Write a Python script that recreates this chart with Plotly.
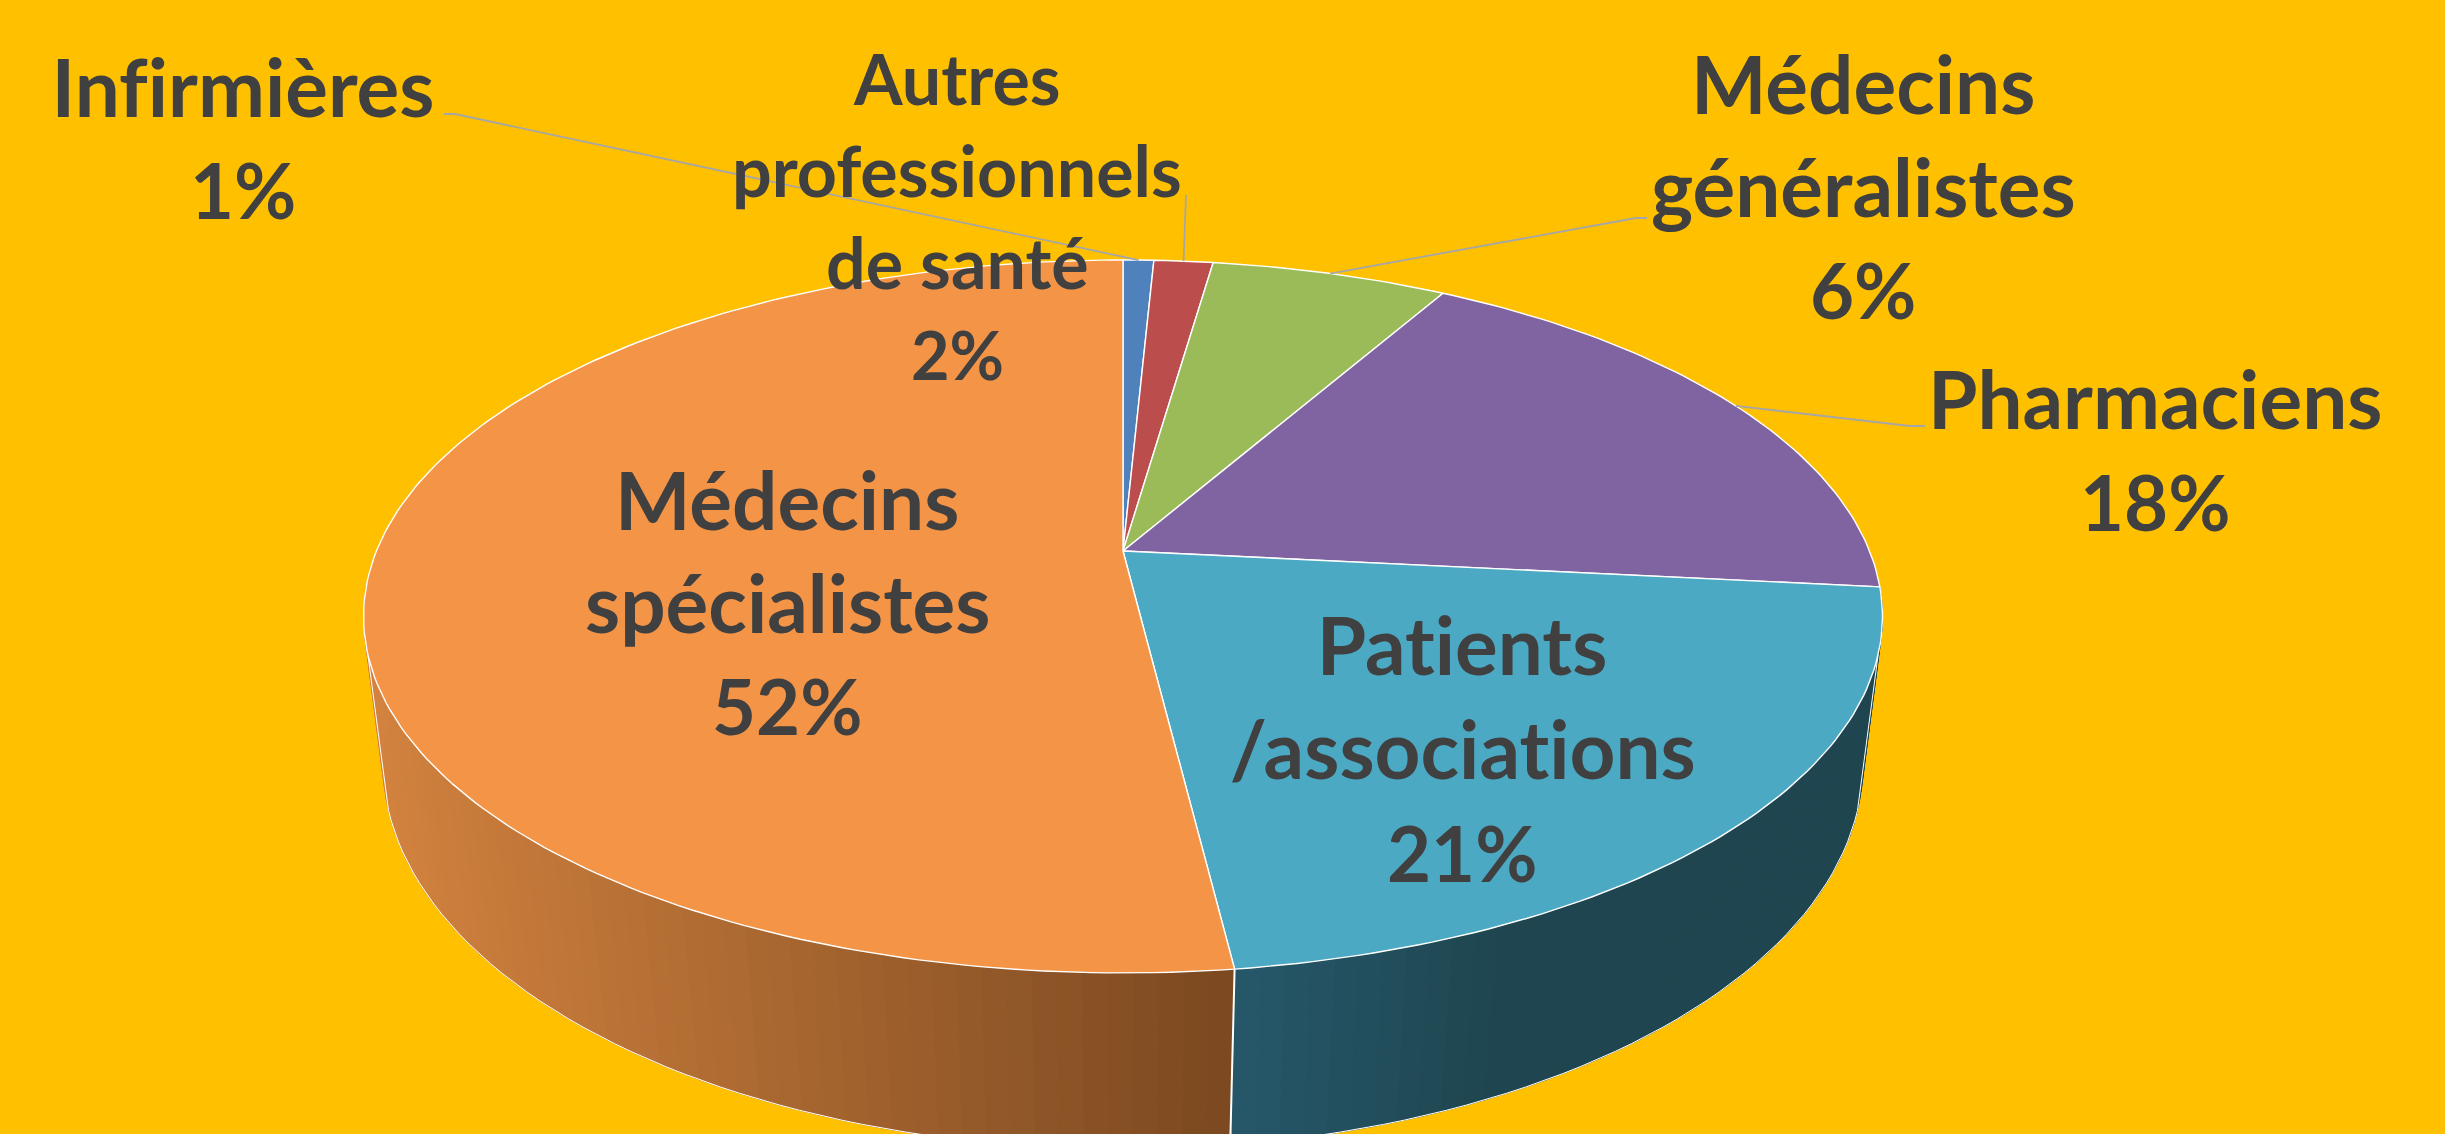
import math
import plotly.graph_objects as go

# --- data -----------------------------------------------------------------
categories = ["Infirmières", "Autres professionnels de santé", "Médecins généralistes",
              "Pharmaciens", "Patients /associations", "Médecins spécialistes"]
values = [0.78, 1.5, 6.0, 18.35, 21.42, 51.95]
label_lines = [["Infirmières"], ["Autres", "professionnels", "de santé"],
               ["Médecins", "généralistes"], ["Pharmaciens"],
               ["Patients", "/associations"], ["Médecins", "spécialistes"]]
colors = ["#4F81BD", "#BC4D4D", "#9BBB59", "#8064A2", "#4BA9C4", "#F49446"]

# --- layout of labels (centre x, y of first line, line pitch, font size) ---
label_pos = [(243, 86, 103, 80), (957, 78, 92, 70), (1863, 83, 103, 80),
             (2155, 398, 103, 80), (1462, 644, 104, 80), (787, 499, 103, 80)]
PERCENT_SCALE = 0.95
# leader elbow / label end: None for labels sitting on the pie
leaders = [[(444, 114), (455, 114)], [(1186, 195)], [(1647, 218), (1636, 218)],
           [(1925, 426), (1910, 426)], None, None]

BG, TEXT, LEADER = "#FFC000", "#404040", "#A6A6A6"
SIDE_RAMPS = {4: ((1234, "#26586A"), (1480, "#1F4650")),
              5: ((380, "#D3833F"), (1233, "#7A4820"))}
CX = 1123
TOP = dict(y0=551, k=0.1837, above=291, half=759.5)
BOT = dict(y0=698, k=0.17, above=320, half=740)
TANGENT = 106.6


def project(deg, disc):
    t = math.radians(deg)
    u, v = math.sin(t), math.cos(t)
    k = disc["k"]
    w = 1 + k * v
    a = disc["half"] * math.sqrt(1 - k * k)
    b = disc["above"] * (1 + k)
    return CX + a * u / w, disc["y0"] - b * v / w


def hex_mix(c0, c1, f):
    f = max(0, min(1, f))
    p = [int(c0[i:i + 2], 16) for i in (1, 3, 5)]
    q = [int(c1[i:i + 2], 16) for i in (1, 3, 5)]
    return "#%02X%02X%02X" % tuple(round(a + (b - a) * f) for a, b in zip(p, q))


def frange(a, b, step):
    n = max(2, int(abs(b - a) / step) + 1)
    return [a + (b - a) * i / (n - 1) for i in range(n)]


total = sum(values)
starts, ends = [], []
acc = 0.0
for val in values:
    starts.append(acc / total * 360)
    acc += val
    ends.append(acc / total * 360)

fig = go.Figure()


def add_poly(xs, ys, fill, line=None, width=1.0):
    fig.add_trace(go.Scatter(x=xs, y=ys, mode="lines", fill="toself", fillcolor=fill,
                             line=dict(color=line or fill, width=width),
                             hoverinfo="skip", showlegend=False))


def add_line(pts, color, width):
    fig.add_trace(go.Scatter(x=[p[0] for p in pts], y=[p[1] for p in pts], mode="lines",
                             line=dict(color=color, width=width),
                             hoverinfo="skip", showlegend=False))


# side wall, built from the same slice angles
for i, ramp in SIDE_RAMPS.items():
    (x0, c0), (x1, c1) = ramp
    a0 = starts[i]
    a1 = min(ends[i], 360 - TANGENT + 14)
    angles = frange(a0, a1, 1.6)
    for p, q in zip(angles[:-1], angles[1:]):
        t0, t1, b1, b0 = project(p, TOP), project(q, TOP), project(q, BOT), project(p, BOT)
        fx = (b0[0] + b1[0]) / 2
        col = hex_mix(c0, c1, (fx - x0) / (x1 - x0))
        add_poly([t0[0], t1[0], b1[0], b0[0], t0[0]], [t0[1], t1[1], b1[1], b0[1], t0[1]], col)

# white outline of the wall
arc = [project(a, BOT) for a in frange(TANGENT, 360 - TANGENT, 1.5)]
add_line([project(TANGENT, TOP)] + arc + [project(360 - TANGENT, TOP)], "#FFFFFF", 1.0)
add_line([project(starts[5], TOP), project(starts[5], BOT)], "#FFFFFF", 2)

# top face
for a0, a1, col in zip(starts, ends, colors):
    rim = [project(a, TOP) for a in frange(a0, a1, 1.0)]
    pts = [(CX, TOP["y0"])] + rim + [(CX, TOP["y0"])]
    add_poly([p[0] for p in pts], [p[1] for p in pts], col, "#FFFFFF", 1.4)

# leader lines, ending on the middle of the slice rim
for a0, a1, leg in zip(starts, ends, leaders):
    if leg:
        add_line(leg + [project((a0 + a1) / 2, TOP)], LEADER, 1.8)

# labels
annotations = []
for val, lines, (cx, y0, pitch, size) in zip(values, label_lines, label_pos):
    all_lines = lines + [f"{round(val / total * 100)}%"]
    for j, line in enumerate(all_lines):
        fs = size * PERCENT_SCALE if j == len(lines) else size
        annotations.append(dict(x=cx, y=y0 + j * pitch, text=f"<b>{line}</b>", showarrow=False,
                                xanchor="center", yanchor="middle",
                                font=dict(family="Lato, Open Sans, sans-serif", size=fs, color=TEXT)))

fig.update_layout(width=2445, height=1134, margin=dict(l=0, r=0, t=0, b=0),
                  paper_bgcolor=BG, plot_bgcolor=BG, showlegend=False,
                  xaxis=dict(range=[0, 2445], visible=False, fixedrange=True),
                  yaxis=dict(range=[1134, 0], visible=False, fixedrange=True),
                  annotations=annotations)

css = ("text{font-variant-ligatures:none !important;"
       "font-feature-settings:'liga' 0,'clig' 0,'dlig' 0 !important;}"
       "text *{font-variant-ligatures:none !important;"
       "font-feature-settings:'liga' 0,'clig' 0,'dlig' 0 !important;}")
fig.write_html("out.html", config=dict(displayModeBar=False),
               post_script="document.body.style.margin='0';document.body.style.background='#FFC000';"
                           "var s=document.createElement('style');"
                           f"s.textContent=\"{css}\";"
                           "document.head.appendChild(s);")
